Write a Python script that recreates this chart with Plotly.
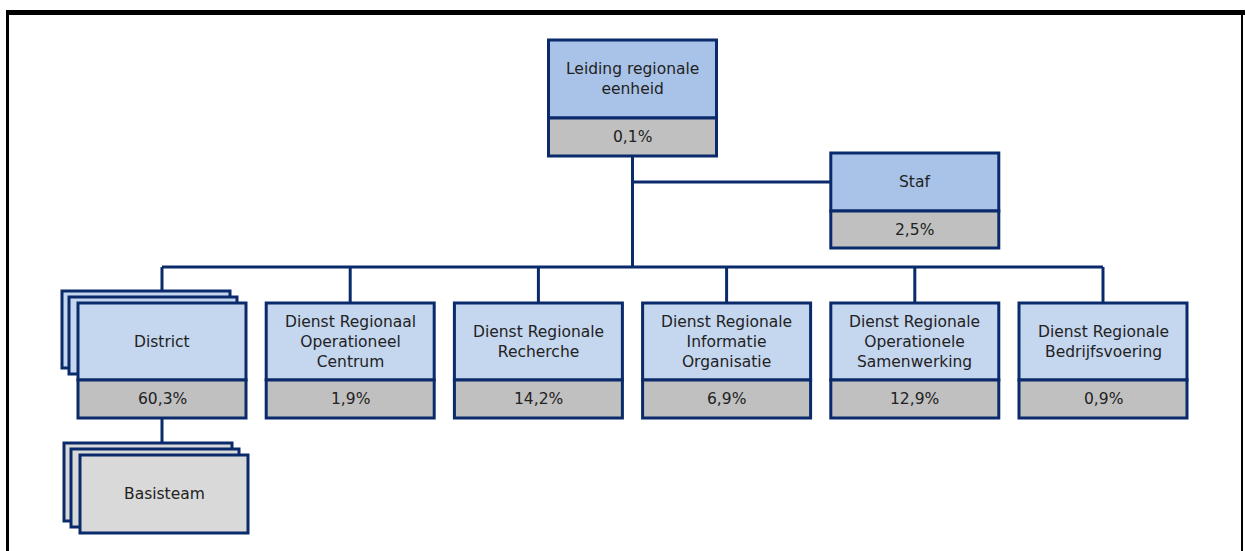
import plotly.graph_objects as go

# ---------------- data ----------------
units = [
    "Leiding regionale<br>eenheid",
    "Staf",
    "District",
    "Dienst Regionaal<br>Operationeel<br>Centrum",
    "Dienst Regionale<br>Recherche",
    "Dienst Regionale<br>Informatie<br>Organisatie",
    "Dienst Regionale<br>Operationele<br>Samenwerking",
    "Dienst Regionale<br>Bedrijfsvoering",
]
shares = [0.1, 2.5, 60.3, 1.9, 14.2, 6.9, 12.9, 0.9]
sub_unit = "Basisteam"

# ---------------- layout / style ----------------
W, H = 1245, 551
COL0, STEP, BOXW = 162, 188.2, 168
NAVY = "#0b2a6b"
BLUE_TOP = "#a9c3e8"
BLUE_ROW = "#c5d6ef"
GREY = "#c0c0c0"
GREY_LIGHT = "#d9d9d9"
TXT = "#222222"
FONT = "DejaVu Sans, Arial, sans-serif"
FSIZE = 15.5
BUS_Y = 267
STACK = [(-16, -12), (-9, -6)]


def col_x(i):
    return COL0 + i * STEP


top_cx = (col_x(2) + col_x(3)) / 2
boxes = []  # (cx, top, sep, bottom, fill, stacked)
boxes.append((top_cx, 40, 118, 156, BLUE_TOP, False))
boxes.append((col_x(4), 153, 211, 248, BLUE_TOP, False))
for i in range(6):
    boxes.append((col_x(i), 303, 380, 418, BLUE_ROW, i == 0))

shapes = []


def line(x0, y0, x1, y1, color=NAVY, width=3):
    shapes.append(dict(type="line", xref="x", yref="y", x0=x0, y0=y0, x1=x1, y1=y1,
                       line=dict(color=color, width=width)))


def rect(x0, y0, x1, y1, fill, width=3):
    shapes.append(dict(type="rect", xref="x", yref="y", x0=x0, y0=y0, x1=x1, y1=y1,
                       fillcolor=fill, line=dict(color=NAVY, width=width)))


# connectors
line(top_cx, 156, top_cx, BUS_Y)
line(top_cx, 182, col_x(4) - BOXW / 2, 182)
line(col_x(0), BUS_Y, col_x(5), BUS_Y)
for i in range(6):
    line(col_x(i), BUS_Y, col_x(i), 303)
line(col_x(0), 418, col_x(0), 443)

annotations = []
for k, (cx, top, sep, bot, fill, stacked) in enumerate(boxes):
    x0, x1 = cx - BOXW / 2, cx + BOXW / 2
    if stacked:
        for dx, dy in STACK:
            rect(x0 + dx, top + dy, x1 + dx, sep + dy, fill)
    rect(x0, top, x1, sep, fill)
    rect(x0, sep, x1, bot, GREY)
    annotations.append(dict(x=cx, y=(top + sep) / 2, text=units[k], showarrow=False,
                            xref="x", yref="y", font=dict(size=FSIZE, color=TXT, family=FONT)))
    annotations.append(dict(x=cx, y=(sep + bot) / 2,
                            text=f"{shares[k]:.1f}%".replace(".", ","), showarrow=False,
                            xref="x", yref="y", font=dict(size=FSIZE, color=TXT, family=FONT)))

# Basisteam stacked card
bx = col_x(0) + 2
b0, b1 = bx - BOXW / 2, bx + BOXW / 2
for dx, dy in STACK:
    rect(b0 + dx, 455 + dy, b1 + dx, 533 + dy, GREY_LIGHT)
rect(b0, 455, b1, 533, GREY_LIGHT)
annotations.append(dict(x=bx, y=494, text=sub_unit, showarrow=False, xref="x", yref="y",
                        font=dict(size=FSIZE, color=TXT, family=FONT)))

# outer frame
line(6, 12.5, W, 12.5, color="black", width=5)
line(7.5, 10, 7.5, H, color="black", width=3)
line(1242, 10, 1242, H, color="black", width=2)

fig = go.Figure(go.Scatter(x=[], y=[], hoverinfo="skip", showlegend=False))
fig.update_layout(
    width=W, height=H, margin=dict(l=0, r=0, t=0, b=0),
    paper_bgcolor="white", plot_bgcolor="white",
    xaxis=dict(range=[0, W], visible=False, fixedrange=True),
    yaxis=dict(range=[H, 0], visible=False, fixedrange=True),
    shapes=shapes, annotations=annotations, showlegend=False,
)
fig.write_html("out.html", config={"displayModeBar": False},
               post_script="document.body.style.margin='0';document.body.style.overflow='hidden';")
